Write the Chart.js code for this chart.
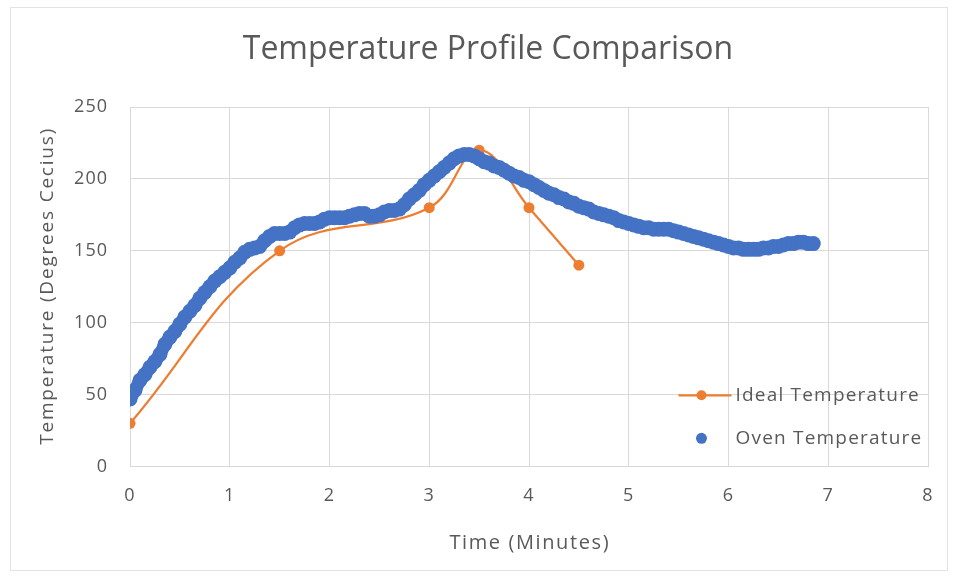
<!DOCTYPE html>
<html>
<head>
<meta charset="utf-8">
<script src="https://cdn.jsdelivr.net/npm/chart.js@4.4.1/dist/chart.umd.min.js"></script>
<style>
  html, body { margin: 0; padding: 0; background: #ffffff; }
  #wrap { width: 958px; height: 578px; }
</style>
</head>
<body>
<div id="wrap"><canvas id="chart" width="958" height="578"></canvas></div>
<script>
// Ideal reflow profile (time in minutes, temperature in °C)
const idealTime = [0, 1.5, 3, 3.5, 4, 4.5];
const idealTemp = [30, 150, 180, 220, 180, 140];

// Logged oven readings
const ovenTime = [
  0.00, 0.05, 0.10, 0.15, 0.20, 0.25, 0.30, 0.35, 0.40, 0.45,
  0.50, 0.55, 0.60, 0.65, 0.70, 0.75, 0.80, 0.85, 0.90, 0.95,
  1.00, 1.05, 1.10, 1.15, 1.20, 1.25, 1.30, 1.35, 1.40, 1.45,
  1.50, 1.55, 1.60, 1.65, 1.70, 1.75, 1.80, 1.85, 1.90, 1.95,
  2.00, 2.05, 2.10, 2.15, 2.20, 2.25, 2.30, 2.35, 2.40, 2.45,
  2.50, 2.55, 2.60, 2.65, 2.70, 2.75, 2.80, 2.85, 2.90, 2.95,
  3.00, 3.05, 3.10, 3.15, 3.20, 3.25, 3.30, 3.35, 3.40, 3.45,
  3.50, 3.55, 3.60, 3.65, 3.70, 3.75, 3.80, 3.85, 3.90, 3.95,
  4.00, 4.05, 4.10, 4.15, 4.20, 4.25, 4.30, 4.35, 4.40, 4.45,
  4.50, 4.55, 4.60, 4.65, 4.70, 4.75, 4.80, 4.85, 4.90, 4.95,
  5.00, 5.05, 5.10, 5.15, 5.20, 5.25, 5.30, 5.35, 5.40, 5.45,
  5.50, 5.55, 5.60, 5.65, 5.70, 5.75, 5.80, 5.85, 5.90, 5.95,
  6.00, 6.05, 6.10, 6.15, 6.20, 6.25, 6.30, 6.35, 6.40, 6.45,
  6.50, 6.55, 6.60, 6.65, 6.70, 6.75, 6.80, 6.85
];
const ovenTemp = [
  47, 53, 60, 64, 69, 73, 78, 85, 90, 94,
  99, 104, 108, 112, 117, 121, 125, 129, 132, 135,
  138, 142, 145, 149, 151, 152, 153, 157, 160, 162,
  162, 162, 163, 166, 168, 169, 169, 169, 170, 172,
  173, 173, 173, 173, 174, 175, 176, 176, 174, 174,
  175, 177, 178, 178, 179, 182, 186, 189, 192, 196,
  199, 202, 205, 208, 211, 214, 216, 217, 217, 216,
  214, 212, 211, 209, 208, 206, 204, 202, 201, 199,
  198, 196, 194, 192, 190, 189, 187, 186, 184, 183,
  181, 180, 179, 177, 176, 175, 174, 173, 171, 170,
  169, 168, 167, 166, 166, 165, 165, 165, 165, 164,
  163, 162, 161, 160, 159, 158, 157, 156, 155, 154,
  153, 152, 152, 151, 151, 151, 151, 152, 152, 153,
  153, 154, 155, 155, 156, 156, 155, 155
];

const xTicks = [0, 1, 2, 3, 4, 5, 6, 7, 8];
const yTicks = [0, 50, 100, 150, 200, 250];

const chartTitle = 'Temperature Profile Comparison';
const xTitle = 'Time (Minutes)';
const yTitle = 'Temperature (Degrees Cecius)';
const seriesNames = ['Ideal Temperature', 'Oven Temperature'];

const ORANGE = '#ED7D31';
const BLUE = '#4472C4';
const TEXT = '#595959';
const GRID = '#d9d9d9';
const FONT = "'Open Sans', 'Noto Sans', sans-serif";

const toPoints = (xs, ys) => xs.map((x, i) => ({ x: x, y: ys[i] }));

// White page, thin frame, and the spacing used by the tick labels
const framePlugin = {
  id: 'frame',
  beforeDraw(chart) {
    const ctx = chart.ctx;
    ctx.save();
    ctx.fillStyle = '#ffffff';
    ctx.fillRect(0, 0, chart.width, chart.height);
    ctx.strokeStyle = '#e3e3e3';
    ctx.lineWidth = 1;
    ctx.strokeRect(10.5, 7.5, 937, 563);
    ctx.restore();
    ctx.letterSpacing = '1px';
  }
};

function spacedText(ctx, text, x, y, size, spacing, rotate) {
  ctx.save();
  ctx.font = size + 'px ' + FONT;
  ctx.letterSpacing = spacing + 'px';
  ctx.fillStyle = TEXT;
  ctx.textAlign = 'center';
  ctx.textBaseline = 'middle';
  ctx.translate(x, y);
  if (rotate) ctx.rotate(-Math.PI / 2);
  // shift by half the trailing spacing so the text stays centred
  ctx.fillText(text, spacing / 2, 0);
  ctx.restore();
}

// Chart title and axis titles
const titlesPlugin = {
  id: 'titles',
  afterDraw(chart) {
    const ctx = chart.ctx;
    const a = chart.chartArea;
    spacedText(ctx, chartTitle, 488, 50, 32, 0, false);
    spacedText(ctx, xTitle, (a.left + a.right) / 2, 543, 20, 1.6, false);
    spacedText(ctx, yTitle, 48, (a.top + a.bottom) / 2, 19, 1.8, true);
  }
};

// Legend drawn inside the plot, lower right
const insideLegend = {
  id: 'insideLegend',
  afterDatasetsDraw(chart) {
    const ctx = chart.ctx;
    const sx = chart.scales.x, sy = chart.scales.y;
    const textX = sx.getPixelForValue(6.07);
    const y0 = sy.getPixelForValue(49.5);
    const gap = 43;
    ctx.save();
    ctx.font = '19px ' + FONT;
    ctx.letterSpacing = '1.2px';
    ctx.textBaseline = 'middle';
    ctx.textAlign = 'left';
    chart.data.datasets.forEach((ds, i) => {
      const y = y0 + i * gap;
      const mx = textX - 34;
      if (ds.legendLine) {
        ctx.strokeStyle = ds.borderColor;
        ctx.lineWidth = 2.25;
        ctx.beginPath();
        ctx.moveTo(textX - 57, y);
        ctx.lineTo(textX - 4, y);
        ctx.stroke();
      }
      ctx.fillStyle = ds.pointBackgroundColor;
      ctx.beginPath();
      ctx.arc(mx, y, i === 0 ? 5 : 5.5, 0, Math.PI * 2);
      ctx.fill();
      ctx.fillStyle = TEXT;
      ctx.fillText(ds.label, textX, y);
    });
    ctx.restore();
  }
};

new Chart(document.getElementById('chart'), {
  type: 'scatter',
  data: {
    datasets: [
      {
        label: seriesNames[0],
        data: toPoints(idealTime, idealTemp),
        showLine: true,
        legendLine: true,
        borderColor: ORANGE,
        backgroundColor: ORANGE,
        pointBackgroundColor: ORANGE,
        borderWidth: 2.25,
        pointRadius: 5.5,
        pointBorderWidth: 0,
        tension: 0.4,
        order: 1
      },
      {
        label: seriesNames[1],
        data: toPoints(ovenTime, ovenTemp),
        // dense markers merge into a solid band
        showLine: true,
        legendLine: false,
        borderColor: BLUE,
        borderWidth: 13,
        borderCapStyle: 'round',
        borderJoinStyle: 'round',
        tension: 0,
        backgroundColor: BLUE,
        pointBackgroundColor: BLUE,
        pointRadius: 7.5,
        pointBorderWidth: 0,
        order: 0
      }
    ]
  },
  options: {
    responsive: false,
    animation: false,
    events: [],
    layout: { padding: { left: 0, right: 30, top: 107, bottom: 0 } },
    plugins: {
      legend: { display: false },
      tooltip: { enabled: false },
      title: { display: false }
    },
    scales: {
      x: {
        type: 'linear',
        min: 0,
        max: 8,
        afterBuildTicks(scale) { scale.ticks = xTicks.map((v) => ({ value: v })); },
        afterFit(scale) { scale.height = 111.5; },
        grid: { color: GRID, lineWidth: 1, drawTicks: false },
        border: { color: GRID, width: 1 },
        ticks: { color: TEXT, font: { family: FONT, size: 18 }, padding: 19 },
        title: { display: false }
      },
      y: {
        type: 'linear',
        min: 0,
        max: 250,
        afterBuildTicks(scale) { scale.ticks = yTicks.map((v) => ({ value: v })); },
        afterFit(scale) { scale.width = 130; },
        grid: { color: GRID, lineWidth: 1, drawTicks: false },
        border: { color: GRID, width: 1 },
        ticks: { color: TEXT, font: { family: FONT, size: 18 }, padding: 22 },
        title: { display: false }
      }
    }
  },
  plugins: [framePlugin, titlesPlugin, insideLegend]
});
</script>
</body>
</html>
